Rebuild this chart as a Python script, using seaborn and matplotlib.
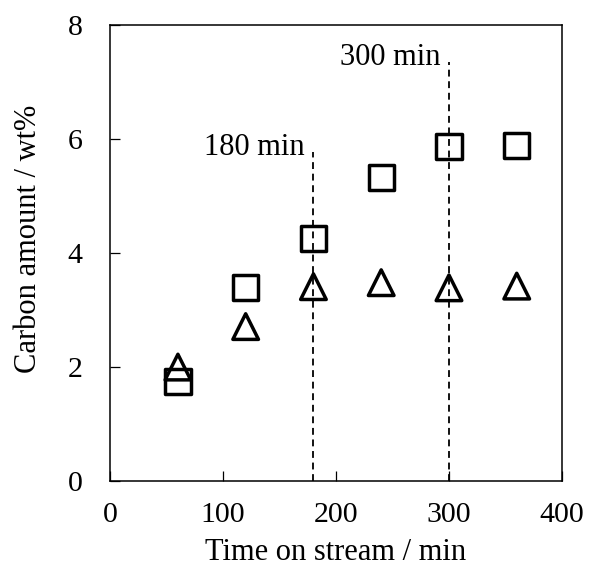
import matplotlib
matplotlib.use("Agg")
import matplotlib.pyplot as plt
import seaborn as sns
import pandas as pd

# Carbon deposited on the catalyst over time on stream
time_min = [60, 120, 180, 240, 300, 360]
carbon_square = [1.75, 3.39, 4.25, 5.33, 5.87, 5.88]
carbon_triangle = [2.00, 2.71, 3.41, 3.48, 3.39, 3.42]

# Sampling times marked with dashed guide lines
mark_times = [180, 300]
mark_tops = [5.77, 7.35]
mark_labels = ["180 min", "300 min"]

x_ticks = [0, 100, 200, 300, 400]
y_ticks = [0, 2, 4, 6, 8]

sns.set_theme(style="ticks")
plt.rcParams["font.family"] = ["Liberation Serif", "DejaVu Serif"]
plt.rcParams["text.color"] = "black"
plt.rcParams["axes.labelcolor"] = "black"

fig = plt.figure(figsize=(5.89, 5.68), dpi=100)
ax = fig.add_axes([0.187, 0.153, 0.767, 0.803])

df_sq = pd.DataFrame({"time": time_min, "carbon": carbon_square})
df_tr = pd.DataFrame({"time": time_min, "carbon": carbon_triangle})

for t, top, lab in zip(mark_times, mark_tops, mark_labels):
    ax.plot([t, t], [0, top], color="black", lw=1.3, ls=(0, (3.8, 2.6)), zorder=1)
    ax.annotate(lab, xy=(t, top), xytext=(-6, -2), textcoords="offset points",
                ha="right", va="baseline", fontsize=22, color="black")

sns.scatterplot(data=df_sq, x="time", y="carbon", marker="s", s=330,
                facecolor="none", edgecolor="black", linewidth=2.5, ax=ax, zorder=3)
sns.scatterplot(data=df_tr, x="time", y="carbon", marker="^", s=340,
                facecolor="none", edgecolor="black", linewidth=2.5, ax=ax, zorder=3)

ax.set_xlim(0, 400)
ax.set_ylim(0, 8)
ax.set_xticks(x_ticks)
ax.set_yticks(y_ticks)
ax.set_xlabel("Time on stream / min", fontsize=22)
ax.set_ylabel("Carbon amount / wt%", fontsize=22)
ax.xaxis.set_label_coords(0.5, -0.125)
ax.yaxis.set_label_coords(-0.149, 0.53)
ax.tick_params(axis="both", direction="in", length=7, width=0.9,
               labelsize=21.5, colors="black")
ax.tick_params(axis="x", pad=15)
ax.tick_params(axis="y", pad=20)
for sp in ax.spines.values():
    sp.set_visible(True)
    sp.set_linewidth(1.1)
    sp.set_color("black")

fig.savefig("out.png", dpi=100)
